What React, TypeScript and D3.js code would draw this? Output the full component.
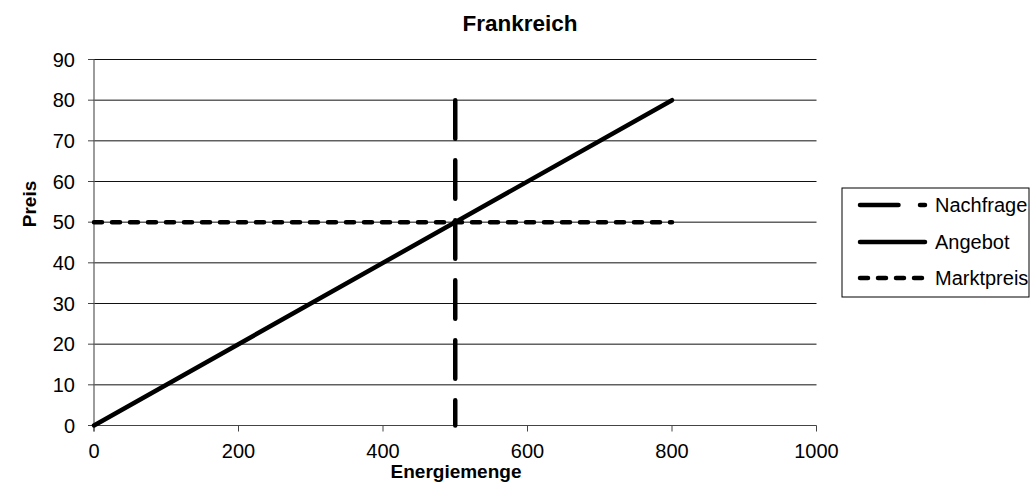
import React from "react";
import * as d3 from "d3";

const title = "Frankreich";
const xAxisTitle = "Energiemenge";
const yAxisTitle = "Preis";
const xTicks = [0, 200, 400, 600, 800, 1000];
const yTicks = [0, 10, 20, 30, 40, 50, 60, 70, 80, 90];

const seriesNames = ["Nachfrage", "Angebot", "Marktpreis"];
const nachfrageX = [500, 500];
const nachfrageY = [80, 0];
const angebotX = [0, 800];
const angebotY = [0, 80];
const marktpreisX = [0, 800];
const marktpreisY = [50, 50];

const W = 1031;
const H = 485;
const FONT = "'Liberation Sans', Arial, sans-serif";

export default function App() {
  const x = d3.scaleLinear().domain([0, 1000]).range([94, 816.5]);
  const y = d3.scaleLinear().domain([0, 90]).range([425.5, 59.5]);
  const line = d3
    .line<[number, number]>()
    .x((d) => x(d[0]))
    .y((d) => y(d[1]));

  const zip = (xs: number[], ys: number[]) =>
    xs.map((v, i) => [v, ys[i]] as [number, number]);

  const series = [
    { name: seriesNames[0], pts: zip(nachfrageX, nachfrageY), dash: "38.5 21.5" },
    { name: seriesNames[1], pts: zip(angebotX, angebotY), dash: "none" },
    { name: seriesNames[2], pts: zip(marktpreisX, marktpreisY), dash: "8 10" },
  ];

  const lw = 4.5;
  const legendX = 842;
  const legendY = 188;
  const legendRows = [205, 242, 278];

  return (
    <svg
      width={W}
      height={H}
      style={{ position: "absolute", left: 0, top: 0, background: "#fff" }}
      fontFamily={FONT}
    >
      <rect x={0} y={0} width={W} height={H} fill="#fff" />
      {/* gridlines */}
      {yTicks.map((t) => (
        <line
          key={"g" + t}
          x1={x(0)}
          x2={x(1000)}
          y1={y(t)}
          y2={y(t)}
          stroke={t === 0 ? "#444" : "#111"}
          strokeWidth={1}
        />
      ))}
      {/* y axis */}
      <line x1={x(0)} x2={x(0)} y1={y(90)} y2={y(0) + 6} stroke="#666" strokeWidth={1.3} />
      {yTicks.map((t) => (
        <g key={"yt" + t}>
          <line x1={x(0) - 6} x2={x(0)} y1={y(t)} y2={y(t)} stroke="#444" strokeWidth={1} />
          <text
            x={75}
            y={y(t)}
            textAnchor="end"
            dominantBaseline="central"
            fontSize={20}
            fill="#000"
          >
            {t}
          </text>
        </g>
      ))}
      {xTicks.map((t) => (
        <g key={"xt" + t}>
          <line x1={x(t)} x2={x(t)} y1={y(0)} y2={y(0) + 6} stroke="#444" strokeWidth={1} />
          <text x={x(t)} y={458} textAnchor="middle" fontSize={20} fill="#000">
            {t}
          </text>
        </g>
      ))}
      {/* series */}
      {series.map((s) => (
        <path
          key={s.name}
          d={line(s.pts) || ""}
          fill="none"
          stroke="#000"
          strokeWidth={lw}
          strokeLinecap="round"
          strokeDasharray={s.dash}
        />
      ))}
      {/* titles */}
      <text x={520} y={31} textAnchor="middle" fontSize={22.5} fontWeight="bold">
        {title}
      </text>
      <text x={456} y={478} textAnchor="middle" fontSize={19} fontWeight="bold">
        {xAxisTitle}
      </text>
      <text
        transform={`translate(36, 204) rotate(-90)`}
        textAnchor="middle"
        fontSize={19}
        fontWeight="bold"
      >
        {yAxisTitle}
      </text>
      {/* legend */}
      <rect
        x={legendX}
        y={legendY}
        width={1029 - legendX}
        height={297 - legendY}
        fill="#fff"
        stroke="#000"
        strokeWidth={1}
      />
      {series.map((s, i) => (
        <g key={"lg" + s.name}>
          <line
            x1={860}
            x2={925}
            y1={legendRows[i]}
            y2={legendRows[i]}
            stroke="#000"
            strokeWidth={lw}
            strokeLinecap="round"
            strokeDasharray={s.dash}
          />
          <text x={935} y={legendRows[i]} dominantBaseline="central" fontSize={20}>
            {s.name}
          </text>
        </g>
      ))}
    </svg>
  );
}
